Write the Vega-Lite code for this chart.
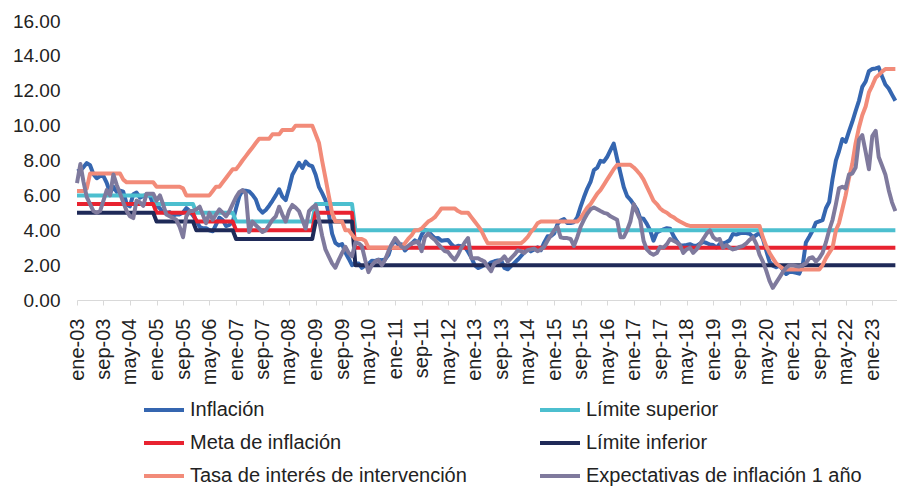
{
  "$schema": "https://vega.github.io/schema/vega-lite/v6.json",
  "autosize": "none",
  "width": 820,
  "height": 279,
  "padding": {"left": 77, "top": 21, "right": 0, "bottom": 188},
  "background": "white",
  "config": {"view": {"stroke": null}, "font": "Liberation Sans"},
  "data": {"values": [
{"d":"2003-01-01","inf":7.39,"sup":6,"meta":5.5,"lim":5,"tasa":6.25,"exp":6.7},
{"d":"2003-02-01","inf":7.43,"sup":6,"meta":5.5,"lim":5,"tasa":6.25,"exp":7.8},
{"d":"2003-03-01","inf":7.61,"sup":6,"meta":5.5,"lim":5,"tasa":6.25,"exp":6.8},
{"d":"2003-04-01","inf":7.85,"sup":6,"meta":5.5,"lim":5,"tasa":6.4,"exp":5.9},
{"d":"2003-05-01","inf":7.73,"sup":6,"meta":5.5,"lim":5,"tasa":7.25,"exp":5.5},
{"d":"2003-06-01","inf":7.21,"sup":6,"meta":5.5,"lim":5,"tasa":7.25,"exp":5.1},
{"d":"2003-07-01","inf":6.98,"sup":6,"meta":5.5,"lim":5,"tasa":7.25,"exp":5.0},
{"d":"2003-08-01","inf":7.11,"sup":6,"meta":5.5,"lim":5,"tasa":7.25,"exp":5.1},
{"d":"2003-09-01","inf":7.11,"sup":6,"meta":5.5,"lim":5,"tasa":7.25,"exp":5.7},
{"d":"2003-10-01","inf":6.72,"sup":6,"meta":5.5,"lim":5,"tasa":7.25,"exp":6.3},
{"d":"2003-11-01","inf":6.13,"sup":6,"meta":5.5,"lim":5,"tasa":7.25,"exp":6.0},
{"d":"2003-12-01","inf":6.49,"sup":6,"meta":5.5,"lim":5,"tasa":7.25,"exp":7.2},
{"d":"2004-01-01","inf":6.20,"sup":6,"meta":5.5,"lim":5,"tasa":7.25,"exp":6.6},
{"d":"2004-02-01","inf":6.27,"sup":6,"meta":5.5,"lim":5,"tasa":7.25,"exp":6.1},
{"d":"2004-03-01","inf":6.21,"sup":6,"meta":5.5,"lim":5,"tasa":6.9,"exp":5.6},
{"d":"2004-04-01","inf":5.50,"sup":6,"meta":5.5,"lim":5,"tasa":6.75,"exp":5.1},
{"d":"2004-05-01","inf":5.37,"sup":6,"meta":5.5,"lim":5,"tasa":6.75,"exp":4.8},
{"d":"2004-06-01","inf":6.06,"sup":6,"meta":5.5,"lim":5,"tasa":6.75,"exp":4.7},
{"d":"2004-07-01","inf":6.16,"sup":6,"meta":5.5,"lim":5,"tasa":6.75,"exp":5.7},
{"d":"2004-08-01","inf":5.87,"sup":6,"meta":5.5,"lim":5,"tasa":6.75,"exp":5.6},
{"d":"2004-09-01","inf":5.97,"sup":6,"meta":5.5,"lim":5,"tasa":6.75,"exp":5.4},
{"d":"2004-10-01","inf":6.03,"sup":6,"meta":5.5,"lim":5,"tasa":6.75,"exp":6.1},
{"d":"2004-11-01","inf":5.97,"sup":6,"meta":5.5,"lim":5,"tasa":6.75,"exp":6.1},
{"d":"2004-12-01","inf":5.50,"sup":6,"meta":5.5,"lim":5,"tasa":6.75,"exp":6.1},
{"d":"2005-01-01","inf":5.43,"sup":5.5,"meta":5,"lim":4.5,"tasa":6.5,"exp":5.7},
{"d":"2005-02-01","inf":5.25,"sup":5.5,"meta":5,"lim":4.5,"tasa":6.5,"exp":6.0},
{"d":"2005-03-01","inf":5.03,"sup":5.5,"meta":5,"lim":4.5,"tasa":6.5,"exp":5.5},
{"d":"2005-04-01","inf":5.01,"sup":5.5,"meta":5,"lim":4.5,"tasa":6.5,"exp":4.9},
{"d":"2005-05-01","inf":5.04,"sup":5.5,"meta":5,"lim":4.5,"tasa":6.5,"exp":4.8},
{"d":"2005-06-01","inf":4.83,"sup":5.5,"meta":5,"lim":4.5,"tasa":6.5,"exp":4.7},
{"d":"2005-07-01","inf":4.91,"sup":5.5,"meta":5,"lim":4.5,"tasa":6.5,"exp":4.6},
{"d":"2005-08-01","inf":4.91,"sup":5.5,"meta":5,"lim":4.5,"tasa":6.5,"exp":4.2},
{"d":"2005-09-01","inf":5.02,"sup":5.5,"meta":5,"lim":4.5,"tasa":6.4,"exp":3.6},
{"d":"2005-10-01","inf":5.27,"sup":5.5,"meta":5,"lim":4.5,"tasa":6.0,"exp":4.8},
{"d":"2005-11-01","inf":5.10,"sup":5.5,"meta":5,"lim":4.5,"tasa":6.0,"exp":5.1},
{"d":"2005-12-01","inf":4.85,"sup":5.5,"meta":5,"lim":4.5,"tasa":6.0,"exp":5.1},
{"d":"2006-01-01","inf":4.56,"sup":5,"meta":4.5,"lim":4,"tasa":6.0,"exp":5.2},
{"d":"2006-02-01","inf":4.19,"sup":5,"meta":4.5,"lim":4,"tasa":6.0,"exp":5.35},
{"d":"2006-03-01","inf":4.11,"sup":5,"meta":4.5,"lim":4,"tasa":6.0,"exp":4.9},
{"d":"2006-04-01","inf":4.12,"sup":5,"meta":4.5,"lim":4,"tasa":6.0,"exp":4.4},
{"d":"2006-05-01","inf":4.00,"sup":5,"meta":4.5,"lim":4,"tasa":6.0,"exp":5.0},
{"d":"2006-06-01","inf":3.94,"sup":5,"meta":4.5,"lim":4,"tasa":6.25,"exp":4.6},
{"d":"2006-07-01","inf":4.32,"sup":5,"meta":4.5,"lim":4,"tasa":6.5,"exp":4.9},
{"d":"2006-08-01","inf":4.72,"sup":5,"meta":4.5,"lim":4,"tasa":6.5,"exp":5.2},
{"d":"2006-09-01","inf":4.58,"sup":5,"meta":4.5,"lim":4,"tasa":6.75,"exp":5.0},
{"d":"2006-10-01","inf":4.24,"sup":5,"meta":4.5,"lim":4,"tasa":7.0,"exp":4.8},
{"d":"2006-11-01","inf":4.31,"sup":5,"meta":4.5,"lim":4,"tasa":7.25,"exp":5.1},
{"d":"2006-12-01","inf":4.48,"sup":5,"meta":4.5,"lim":4,"tasa":7.5,"exp":5.5},
{"d":"2007-01-01","inf":5.26,"sup":4.5,"meta":4,"lim":3.5,"tasa":7.5,"exp":5.9},
{"d":"2007-02-01","inf":5.96,"sup":4.5,"meta":4,"lim":3.5,"tasa":7.75,"exp":6.2},
{"d":"2007-03-01","inf":6.28,"sup":4.5,"meta":4,"lim":3.5,"tasa":8.0,"exp":6.3},
{"d":"2007-04-01","inf":6.26,"sup":4.5,"meta":4,"lim":3.5,"tasa":8.25,"exp":6.1},
{"d":"2007-05-01","inf":6.23,"sup":4.5,"meta":4,"lim":3.5,"tasa":8.5,"exp":3.9},
{"d":"2007-06-01","inf":6.03,"sup":4.5,"meta":4,"lim":3.5,"tasa":8.75,"exp":4.5},
{"d":"2007-07-01","inf":5.77,"sup":4.5,"meta":4,"lim":3.5,"tasa":9.0,"exp":4.3},
{"d":"2007-08-01","inf":5.22,"sup":4.5,"meta":4,"lim":3.5,"tasa":9.25,"exp":4.1},
{"d":"2007-09-01","inf":5.01,"sup":4.5,"meta":4,"lim":3.5,"tasa":9.25,"exp":3.9},
{"d":"2007-10-01","inf":5.16,"sup":4.5,"meta":4,"lim":3.5,"tasa":9.25,"exp":4.0},
{"d":"2007-11-01","inf":5.41,"sup":4.5,"meta":4,"lim":3.5,"tasa":9.25,"exp":4.3},
{"d":"2007-12-01","inf":5.69,"sup":4.5,"meta":4,"lim":3.5,"tasa":9.5,"exp":4.6},
{"d":"2008-01-01","inf":6.00,"sup":4.5,"meta":4,"lim":3.5,"tasa":9.5,"exp":4.8},
{"d":"2008-02-01","inf":6.35,"sup":4.5,"meta":4,"lim":3.5,"tasa":9.5,"exp":5.35},
{"d":"2008-03-01","inf":5.93,"sup":4.5,"meta":4,"lim":3.5,"tasa":9.75,"exp":4.9},
{"d":"2008-04-01","inf":5.73,"sup":4.5,"meta":4,"lim":3.5,"tasa":9.75,"exp":4.5},
{"d":"2008-05-01","inf":6.39,"sup":4.5,"meta":4,"lim":3.5,"tasa":9.75,"exp":5.1},
{"d":"2008-06-01","inf":7.18,"sup":4.5,"meta":4,"lim":3.5,"tasa":9.75,"exp":5.45},
{"d":"2008-07-01","inf":7.52,"sup":4.5,"meta":4,"lim":3.5,"tasa":10.0,"exp":5.3},
{"d":"2008-08-01","inf":7.87,"sup":4.5,"meta":4,"lim":3.5,"tasa":10.0,"exp":5.1},
{"d":"2008-09-01","inf":7.57,"sup":4.5,"meta":4,"lim":3.5,"tasa":10.0,"exp":4.6},
{"d":"2008-10-01","inf":7.94,"sup":4.5,"meta":4,"lim":3.5,"tasa":10.0,"exp":4.1},
{"d":"2008-11-01","inf":7.73,"sup":4.5,"meta":4,"lim":3.5,"tasa":10.0,"exp":5.1},
{"d":"2008-12-01","inf":7.67,"sup":4.5,"meta":4,"lim":3.5,"tasa":10.0,"exp":5.3},
{"d":"2009-01-01","inf":7.18,"sup":5.5,"meta":5,"lim":4.5,"tasa":9.5,"exp":5.45},
{"d":"2009-02-01","inf":6.47,"sup":5.5,"meta":5,"lim":4.5,"tasa":9.0,"exp":4.6},
{"d":"2009-03-01","inf":6.14,"sup":5.5,"meta":5,"lim":4.5,"tasa":8.0,"exp":3.7},
{"d":"2009-04-01","inf":5.73,"sup":5.5,"meta":5,"lim":4.5,"tasa":7.0,"exp":2.9},
{"d":"2009-05-01","inf":4.98,"sup":5.5,"meta":5,"lim":4.5,"tasa":6.0,"exp":2.5},
{"d":"2009-06-01","inf":3.81,"sup":5.5,"meta":5,"lim":4.5,"tasa":5.0,"exp":2.1},
{"d":"2009-07-01","inf":3.28,"sup":5.5,"meta":5,"lim":4.5,"tasa":4.5,"exp":1.85},
{"d":"2009-08-01","inf":3.13,"sup":5.5,"meta":5,"lim":4.5,"tasa":4.5,"exp":2.3},
{"d":"2009-09-01","inf":3.21,"sup":5.5,"meta":5,"lim":4.5,"tasa":4.5,"exp":2.7},
{"d":"2009-10-01","inf":2.72,"sup":5.5,"meta":5,"lim":4.5,"tasa":4.0,"exp":3.05},
{"d":"2009-11-01","inf":2.37,"sup":5.5,"meta":5,"lim":4.5,"tasa":4.0,"exp":2.7},
{"d":"2009-12-01","inf":2.00,"sup":5.5,"meta":5,"lim":4.5,"tasa":3.75,"exp":2.5},
{"d":"2010-01-01","inf":2.10,"sup":4,"meta":3,"lim":2,"tasa":3.5,"exp":3.3},
{"d":"2010-02-01","inf":2.09,"sup":4,"meta":3,"lim":2,"tasa":3.5,"exp":3.25},
{"d":"2010-03-01","inf":1.84,"sup":4,"meta":3,"lim":2,"tasa":3.5,"exp":3.1},
{"d":"2010-04-01","inf":1.98,"sup":4,"meta":3,"lim":2,"tasa":3.4,"exp":2.3},
{"d":"2010-05-01","inf":2.07,"sup":4,"meta":3,"lim":2,"tasa":3.0,"exp":1.6},
{"d":"2010-06-01","inf":2.25,"sup":4,"meta":3,"lim":2,"tasa":3.0,"exp":2.0},
{"d":"2010-07-01","inf":2.24,"sup":4,"meta":3,"lim":2,"tasa":3.0,"exp":2.2},
{"d":"2010-08-01","inf":2.31,"sup":4,"meta":3,"lim":2,"tasa":3.0,"exp":2.3},
{"d":"2010-09-01","inf":2.28,"sup":4,"meta":3,"lim":2,"tasa":3.0,"exp":2.0},
{"d":"2010-10-01","inf":2.33,"sup":4,"meta":3,"lim":2,"tasa":3.0,"exp":2.3},
{"d":"2010-11-01","inf":2.59,"sup":4,"meta":3,"lim":2,"tasa":3.0,"exp":2.8},
{"d":"2010-12-01","inf":3.17,"sup":4,"meta":3,"lim":2,"tasa":3.0,"exp":3.2},
{"d":"2011-01-01","inf":3.40,"sup":4,"meta":3,"lim":2,"tasa":3.0,"exp":3.55},
{"d":"2011-02-01","inf":3.17,"sup":4,"meta":3,"lim":2,"tasa":3.0,"exp":3.3},
{"d":"2011-03-01","inf":3.19,"sup":4,"meta":3,"lim":2,"tasa":3.0,"exp":3.05},
{"d":"2011-04-01","inf":2.84,"sup":4,"meta":3,"lim":2,"tasa":3.25,"exp":2.95},
{"d":"2011-05-01","inf":3.02,"sup":4,"meta":3,"lim":2,"tasa":3.5,"exp":3.1},
{"d":"2011-06-01","inf":3.23,"sup":4,"meta":3,"lim":2,"tasa":3.7,"exp":3.25},
{"d":"2011-07-01","inf":3.42,"sup":4,"meta":3,"lim":2,"tasa":4.0,"exp":3.3},
{"d":"2011-08-01","inf":3.27,"sup":4,"meta":3,"lim":2,"tasa":4.0,"exp":3.35},
{"d":"2011-09-01","inf":3.73,"sup":4,"meta":3,"lim":2,"tasa":4.1,"exp":2.8},
{"d":"2011-10-01","inf":4.02,"sup":4,"meta":3,"lim":2,"tasa":4.3,"exp":3.6},
{"d":"2011-11-01","inf":3.96,"sup":4,"meta":3,"lim":2,"tasa":4.5,"exp":3.8},
{"d":"2011-12-01","inf":3.73,"sup":4,"meta":3,"lim":2,"tasa":4.6,"exp":3.6},
{"d":"2012-01-01","inf":3.54,"sup":4,"meta":3,"lim":2,"tasa":4.75,"exp":3.45},
{"d":"2012-02-01","inf":3.55,"sup":4,"meta":3,"lim":2,"tasa":5.0,"exp":3.2},
{"d":"2012-03-01","inf":3.40,"sup":4,"meta":3,"lim":2,"tasa":5.25,"exp":3.0},
{"d":"2012-04-01","inf":3.43,"sup":4,"meta":3,"lim":2,"tasa":5.25,"exp":2.8},
{"d":"2012-05-01","inf":3.44,"sup":4,"meta":3,"lim":2,"tasa":5.25,"exp":2.75},
{"d":"2012-06-01","inf":3.20,"sup":4,"meta":3,"lim":2,"tasa":5.25,"exp":2.5},
{"d":"2012-07-01","inf":3.03,"sup":4,"meta":3,"lim":2,"tasa":5.25,"exp":2.3},
{"d":"2012-08-01","inf":3.11,"sup":4,"meta":3,"lim":2,"tasa":5.1,"exp":2.6},
{"d":"2012-09-01","inf":3.08,"sup":4,"meta":3,"lim":2,"tasa":5.0,"exp":3.0},
{"d":"2012-10-01","inf":3.06,"sup":4,"meta":3,"lim":2,"tasa":5.0,"exp":3.3},
{"d":"2012-11-01","inf":2.77,"sup":4,"meta":3,"lim":2,"tasa":5.0,"exp":3.55},
{"d":"2012-12-01","inf":2.44,"sup":4,"meta":3,"lim":2,"tasa":4.75,"exp":2.4},
{"d":"2013-01-01","inf":2.00,"sup":4,"meta":3,"lim":2,"tasa":4.5,"exp":2.4},
{"d":"2013-02-01","inf":1.83,"sup":4,"meta":3,"lim":2,"tasa":4.25,"exp":2.4},
{"d":"2013-03-01","inf":1.91,"sup":4,"meta":3,"lim":2,"tasa":4.0,"exp":2.3},
{"d":"2013-04-01","inf":2.02,"sup":4,"meta":3,"lim":2,"tasa":3.6,"exp":2.2},
{"d":"2013-05-01","inf":2.00,"sup":4,"meta":3,"lim":2,"tasa":3.25,"exp":1.9},
{"d":"2013-06-01","inf":2.16,"sup":4,"meta":3,"lim":2,"tasa":3.25,"exp":1.65},
{"d":"2013-07-01","inf":2.22,"sup":4,"meta":3,"lim":2,"tasa":3.25,"exp":2.1},
{"d":"2013-08-01","inf":2.27,"sup":4,"meta":3,"lim":2,"tasa":3.25,"exp":2.2},
{"d":"2013-09-01","inf":2.27,"sup":4,"meta":3,"lim":2,"tasa":3.25,"exp":2.3},
{"d":"2013-10-01","inf":1.84,"sup":4,"meta":3,"lim":2,"tasa":3.25,"exp":2.5},
{"d":"2013-11-01","inf":1.76,"sup":4,"meta":3,"lim":2,"tasa":3.25,"exp":2.2},
{"d":"2013-12-01","inf":1.94,"sup":4,"meta":3,"lim":2,"tasa":3.25,"exp":2.4},
{"d":"2014-01-01","inf":2.13,"sup":4,"meta":3,"lim":2,"tasa":3.25,"exp":2.6},
{"d":"2014-02-01","inf":2.32,"sup":4,"meta":3,"lim":2,"tasa":3.25,"exp":2.85},
{"d":"2014-03-01","inf":2.51,"sup":4,"meta":3,"lim":2,"tasa":3.25,"exp":2.8},
{"d":"2014-04-01","inf":2.72,"sup":4,"meta":3,"lim":2,"tasa":3.4,"exp":2.7},
{"d":"2014-05-01","inf":2.93,"sup":4,"meta":3,"lim":2,"tasa":3.6,"exp":2.85},
{"d":"2014-06-01","inf":2.79,"sup":4,"meta":3,"lim":2,"tasa":3.9,"exp":2.9},
{"d":"2014-07-01","inf":2.89,"sup":4,"meta":3,"lim":2,"tasa":4.1,"exp":2.95},
{"d":"2014-08-01","inf":3.02,"sup":4,"meta":3,"lim":2,"tasa":4.4,"exp":2.8},
{"d":"2014-09-01","inf":2.86,"sup":4,"meta":3,"lim":2,"tasa":4.5,"exp":2.9},
{"d":"2014-10-01","inf":3.29,"sup":4,"meta":3,"lim":2,"tasa":4.5,"exp":3.05},
{"d":"2014-11-01","inf":3.65,"sup":4,"meta":3,"lim":2,"tasa":4.5,"exp":3.4},
{"d":"2014-12-01","inf":3.66,"sup":4,"meta":3,"lim":2,"tasa":4.5,"exp":3.7},
{"d":"2015-01-01","inf":3.82,"sup":4,"meta":3,"lim":2,"tasa":4.5,"exp":4.0},
{"d":"2015-02-01","inf":4.36,"sup":4,"meta":3,"lim":2,"tasa":4.5,"exp":4.2},
{"d":"2015-03-01","inf":4.56,"sup":4,"meta":3,"lim":2,"tasa":4.5,"exp":3.6},
{"d":"2015-04-01","inf":4.64,"sup":4,"meta":3,"lim":2,"tasa":4.5,"exp":3.55},
{"d":"2015-05-01","inf":4.41,"sup":4,"meta":3,"lim":2,"tasa":4.5,"exp":3.55},
{"d":"2015-06-01","inf":4.42,"sup":4,"meta":3,"lim":2,"tasa":4.5,"exp":3.5},
{"d":"2015-07-01","inf":4.46,"sup":4,"meta":3,"lim":2,"tasa":4.5,"exp":3.1},
{"d":"2015-08-01","inf":4.74,"sup":4,"meta":3,"lim":2,"tasa":4.5,"exp":3.6},
{"d":"2015-09-01","inf":5.35,"sup":4,"meta":3,"lim":2,"tasa":4.7,"exp":4.2},
{"d":"2015-10-01","inf":5.89,"sup":4,"meta":3,"lim":2,"tasa":5.0,"exp":4.6},
{"d":"2015-11-01","inf":6.39,"sup":4,"meta":3,"lim":2,"tasa":5.3,"exp":4.95},
{"d":"2015-12-01","inf":6.77,"sup":4,"meta":3,"lim":2,"tasa":5.5,"exp":5.2},
{"d":"2016-01-01","inf":7.45,"sup":4,"meta":3,"lim":2,"tasa":5.8,"exp":5.3},
{"d":"2016-02-01","inf":7.59,"sup":4,"meta":3,"lim":2,"tasa":6.1,"exp":5.2},
{"d":"2016-03-01","inf":7.98,"sup":4,"meta":3,"lim":2,"tasa":6.3,"exp":5.1},
{"d":"2016-04-01","inf":7.93,"sup":4,"meta":3,"lim":2,"tasa":6.6,"exp":5.0},
{"d":"2016-05-01","inf":8.20,"sup":4,"meta":3,"lim":2,"tasa":6.9,"exp":4.95},
{"d":"2016-06-01","inf":8.60,"sup":4,"meta":3,"lim":2,"tasa":7.2,"exp":4.8},
{"d":"2016-07-01","inf":8.97,"sup":4,"meta":3,"lim":2,"tasa":7.5,"exp":4.7},
{"d":"2016-08-01","inf":8.10,"sup":4,"meta":3,"lim":2,"tasa":7.75,"exp":4.6},
{"d":"2016-09-01","inf":7.27,"sup":4,"meta":3,"lim":2,"tasa":7.75,"exp":3.6},
{"d":"2016-10-01","inf":6.48,"sup":4,"meta":3,"lim":2,"tasa":7.75,"exp":3.6},
{"d":"2016-11-01","inf":5.96,"sup":4,"meta":3,"lim":2,"tasa":7.75,"exp":4.0},
{"d":"2016-12-01","inf":5.75,"sup":4,"meta":3,"lim":2,"tasa":7.75,"exp":4.5},
{"d":"2017-01-01","inf":5.47,"sup":4,"meta":3,"lim":2,"tasa":7.6,"exp":5.5},
{"d":"2017-02-01","inf":5.18,"sup":4,"meta":3,"lim":2,"tasa":7.4,"exp":5.0},
{"d":"2017-03-01","inf":4.69,"sup":4,"meta":3,"lim":2,"tasa":7.2,"exp":4.6},
{"d":"2017-04-01","inf":4.66,"sup":4,"meta":3,"lim":2,"tasa":6.9,"exp":3.4},
{"d":"2017-05-01","inf":4.37,"sup":4,"meta":3,"lim":2,"tasa":6.5,"exp":2.9},
{"d":"2017-06-01","inf":3.99,"sup":4,"meta":3,"lim":2,"tasa":6.1,"exp":2.7},
{"d":"2017-07-01","inf":3.40,"sup":4,"meta":3,"lim":2,"tasa":5.7,"exp":2.6},
{"d":"2017-08-01","inf":3.87,"sup":4,"meta":3,"lim":2,"tasa":5.5,"exp":2.7},
{"d":"2017-09-01","inf":3.97,"sup":4,"meta":3,"lim":2,"tasa":5.25,"exp":3.05},
{"d":"2017-10-01","inf":4.05,"sup":4,"meta":3,"lim":2,"tasa":5.1,"exp":3.0},
{"d":"2017-11-01","inf":4.12,"sup":4,"meta":3,"lim":2,"tasa":5.0,"exp":3.2},
{"d":"2017-12-01","inf":4.09,"sup":4,"meta":3,"lim":2,"tasa":4.85,"exp":3.5},
{"d":"2018-01-01","inf":3.68,"sup":4,"meta":3,"lim":2,"tasa":4.75,"exp":3.4},
{"d":"2018-02-01","inf":3.37,"sup":4,"meta":3,"lim":2,"tasa":4.6,"exp":3.3},
{"d":"2018-03-01","inf":3.14,"sup":4,"meta":3,"lim":2,"tasa":4.5,"exp":3.15},
{"d":"2018-04-01","inf":3.13,"sup":4,"meta":3,"lim":2,"tasa":4.4,"exp":2.7},
{"d":"2018-05-01","inf":3.16,"sup":4,"meta":3,"lim":2,"tasa":4.3,"exp":2.9},
{"d":"2018-06-01","inf":3.20,"sup":4,"meta":3,"lim":2,"tasa":4.25,"exp":3.0},
{"d":"2018-07-01","inf":3.12,"sup":4,"meta":3,"lim":2,"tasa":4.25,"exp":2.7},
{"d":"2018-08-01","inf":3.10,"sup":4,"meta":3,"lim":2,"tasa":4.25,"exp":2.9},
{"d":"2018-09-01","inf":3.23,"sup":4,"meta":3,"lim":2,"tasa":4.25,"exp":3.2},
{"d":"2018-10-01","inf":3.33,"sup":4,"meta":3,"lim":2,"tasa":4.25,"exp":3.5},
{"d":"2018-11-01","inf":3.27,"sup":4,"meta":3,"lim":2,"tasa":4.25,"exp":3.8},
{"d":"2018-12-01","inf":3.18,"sup":4,"meta":3,"lim":2,"tasa":4.25,"exp":4.0},
{"d":"2019-01-01","inf":3.15,"sup":4,"meta":3,"lim":2,"tasa":4.25,"exp":3.6},
{"d":"2019-02-01","inf":3.01,"sup":4,"meta":3,"lim":2,"tasa":4.25,"exp":3.45},
{"d":"2019-03-01","inf":3.21,"sup":4,"meta":3,"lim":2,"tasa":4.25,"exp":3.5},
{"d":"2019-04-01","inf":3.25,"sup":4,"meta":3,"lim":2,"tasa":4.25,"exp":3.0},
{"d":"2019-05-01","inf":3.31,"sup":4,"meta":3,"lim":2,"tasa":4.25,"exp":3.15},
{"d":"2019-06-01","inf":3.43,"sup":4,"meta":3,"lim":2,"tasa":4.25,"exp":3.0},
{"d":"2019-07-01","inf":3.79,"sup":4,"meta":3,"lim":2,"tasa":4.25,"exp":2.9},
{"d":"2019-08-01","inf":3.75,"sup":4,"meta":3,"lim":2,"tasa":4.25,"exp":2.95},
{"d":"2019-09-01","inf":3.82,"sup":4,"meta":3,"lim":2,"tasa":4.25,"exp":3.05},
{"d":"2019-10-01","inf":3.86,"sup":4,"meta":3,"lim":2,"tasa":4.25,"exp":3.1},
{"d":"2019-11-01","inf":3.84,"sup":4,"meta":3,"lim":2,"tasa":4.25,"exp":3.25},
{"d":"2019-12-01","inf":3.80,"sup":4,"meta":3,"lim":2,"tasa":4.25,"exp":3.45},
{"d":"2020-01-01","inf":3.62,"sup":4,"meta":3,"lim":2,"tasa":4.25,"exp":3.6},
{"d":"2020-02-01","inf":3.72,"sup":4,"meta":3,"lim":2,"tasa":4.25,"exp":3.2},
{"d":"2020-03-01","inf":3.86,"sup":4,"meta":3,"lim":2,"tasa":4.25,"exp":2.6},
{"d":"2020-04-01","inf":3.51,"sup":4,"meta":3,"lim":2,"tasa":3.6,"exp":2.2},
{"d":"2020-05-01","inf":2.85,"sup":4,"meta":3,"lim":2,"tasa":3.1,"exp":1.7},
{"d":"2020-06-01","inf":2.19,"sup":4,"meta":3,"lim":2,"tasa":2.7,"exp":1.1},
{"d":"2020-07-01","inf":1.97,"sup":4,"meta":3,"lim":2,"tasa":2.4,"exp":0.7},
{"d":"2020-08-01","inf":1.88,"sup":4,"meta":3,"lim":2,"tasa":2.1,"exp":1.0},
{"d":"2020-09-01","inf":1.97,"sup":4,"meta":3,"lim":2,"tasa":1.95,"exp":1.3},
{"d":"2020-10-01","inf":1.75,"sup":4,"meta":3,"lim":2,"tasa":1.8,"exp":1.6},
{"d":"2020-11-01","inf":1.49,"sup":4,"meta":3,"lim":2,"tasa":1.75,"exp":1.85},
{"d":"2020-12-01","inf":1.61,"sup":4,"meta":3,"lim":2,"tasa":1.75,"exp":2.0},
{"d":"2021-01-01","inf":1.60,"sup":4,"meta":3,"lim":2,"tasa":1.75,"exp":2.0},
{"d":"2021-02-01","inf":1.56,"sup":4,"meta":3,"lim":2,"tasa":1.75,"exp":1.95},
{"d":"2021-03-01","inf":1.51,"sup":4,"meta":3,"lim":2,"tasa":1.75,"exp":1.92},
{"d":"2021-04-01","inf":1.95,"sup":4,"meta":3,"lim":2,"tasa":1.75,"exp":2.0},
{"d":"2021-05-01","inf":3.30,"sup":4,"meta":3,"lim":2,"tasa":1.75,"exp":2.1},
{"d":"2021-06-01","inf":3.63,"sup":4,"meta":3,"lim":2,"tasa":1.75,"exp":2.4},
{"d":"2021-07-01","inf":3.97,"sup":4,"meta":3,"lim":2,"tasa":1.75,"exp":2.45},
{"d":"2021-08-01","inf":4.44,"sup":4,"meta":3,"lim":2,"tasa":1.75,"exp":2.2},
{"d":"2021-09-01","inf":4.51,"sup":4,"meta":3,"lim":2,"tasa":1.75,"exp":2.4},
{"d":"2021-10-01","inf":4.58,"sup":4,"meta":3,"lim":2,"tasa":2.0,"exp":2.7},
{"d":"2021-11-01","inf":5.26,"sup":4,"meta":3,"lim":2,"tasa":2.4,"exp":3.3},
{"d":"2021-12-01","inf":5.62,"sup":4,"meta":3,"lim":2,"tasa":2.7,"exp":4.0},
{"d":"2022-01-01","inf":6.94,"sup":4,"meta":3,"lim":2,"tasa":3.0,"exp":4.6},
{"d":"2022-02-01","inf":8.01,"sup":4,"meta":3,"lim":2,"tasa":4.0,"exp":5.5},
{"d":"2022-03-01","inf":8.53,"sup":4,"meta":3,"lim":2,"tasa":4.4,"exp":6.4},
{"d":"2022-04-01","inf":9.23,"sup":4,"meta":3,"lim":2,"tasa":5.2,"exp":6.5},
{"d":"2022-05-01","inf":9.07,"sup":4,"meta":3,"lim":2,"tasa":6.0,"exp":6.4},
{"d":"2022-06-01","inf":9.67,"sup":4,"meta":3,"lim":2,"tasa":7.0,"exp":7.2},
{"d":"2022-07-01","inf":10.21,"sup":4,"meta":3,"lim":2,"tasa":7.8,"exp":7.25},
{"d":"2022-08-01","inf":10.84,"sup":4,"meta":3,"lim":2,"tasa":9.0,"exp":7.6},
{"d":"2022-09-01","inf":11.44,"sup":4,"meta":3,"lim":2,"tasa":9.9,"exp":9.2},
{"d":"2022-10-01","inf":12.22,"sup":4,"meta":3,"lim":2,"tasa":10.6,"exp":9.45},
{"d":"2022-11-01","inf":12.53,"sup":4,"meta":3,"lim":2,"tasa":11.1,"exp":8.5},
{"d":"2022-12-01","inf":13.12,"sup":4,"meta":3,"lim":2,"tasa":11.9,"exp":7.5},
{"d":"2023-01-01","inf":13.25,"sup":4,"meta":3,"lim":2,"tasa":12.3,"exp":9.4},
{"d":"2023-02-01","inf":13.28,"sup":4,"meta":3,"lim":2,"tasa":12.75,"exp":9.7},
{"d":"2023-03-01","inf":13.34,"sup":4,"meta":3,"lim":2,"tasa":12.9,"exp":8.2},
{"d":"2023-04-01","inf":12.82,"sup":4,"meta":3,"lim":2,"tasa":13.1,"exp":7.7},
{"d":"2023-05-01","inf":12.36,"sup":4,"meta":3,"lim":2,"tasa":13.25,"exp":7.2},
{"d":"2023-06-01","inf":12.13,"sup":4,"meta":3,"lim":2,"tasa":13.25,"exp":6.3},
{"d":"2023-07-01","inf":11.78,"sup":4,"meta":3,"lim":2,"tasa":13.25,"exp":5.6},
{"d":"2023-08-01","inf":11.43,"sup":4,"meta":3,"lim":2,"tasa":13.25,"exp":5.1}
  ]},
  "transform": [
    {"fold": ["inf", "sup", "meta", "lim", "tasa", "exp"], "as": ["serie", "valor"]}
  ],
  "mark": {"type": "line", "strokeWidth": 4, "strokeJoin": "round"},
  "encoding": {
    "x": {
      "field": "d", "type": "temporal",
      "scale": {"type": "utc", "domain": [{"year": 2003, "month": 1, "date": 1, "utc": true}, {"year": 2023, "month": 8, "date": 16, "utc": true}]},
      "axis": {
        "title": null,
        "values": [
          {"year": 2003, "month": 1, "date": 1, "utc": true},
          {"year": 2003, "month": 9, "date": 1, "utc": true},
          {"year": 2004, "month": 5, "date": 1, "utc": true},
          {"year": 2005, "month": 1, "date": 1, "utc": true},
          {"year": 2005, "month": 9, "date": 1, "utc": true},
          {"year": 2006, "month": 5, "date": 1, "utc": true},
          {"year": 2007, "month": 1, "date": 1, "utc": true},
          {"year": 2007, "month": 9, "date": 1, "utc": true},
          {"year": 2008, "month": 5, "date": 1, "utc": true},
          {"year": 2009, "month": 1, "date": 1, "utc": true},
          {"year": 2009, "month": 9, "date": 1, "utc": true},
          {"year": 2010, "month": 5, "date": 1, "utc": true},
          {"year": 2011, "month": 1, "date": 1, "utc": true},
          {"year": 2011, "month": 9, "date": 1, "utc": true},
          {"year": 2012, "month": 5, "date": 1, "utc": true},
          {"year": 2013, "month": 1, "date": 1, "utc": true},
          {"year": 2013, "month": 9, "date": 1, "utc": true},
          {"year": 2014, "month": 5, "date": 1, "utc": true},
          {"year": 2015, "month": 1, "date": 1, "utc": true},
          {"year": 2015, "month": 9, "date": 1, "utc": true},
          {"year": 2016, "month": 5, "date": 1, "utc": true},
          {"year": 2017, "month": 1, "date": 1, "utc": true},
          {"year": 2017, "month": 9, "date": 1, "utc": true},
          {"year": 2018, "month": 5, "date": 1, "utc": true},
          {"year": 2019, "month": 1, "date": 1, "utc": true},
          {"year": 2019, "month": 9, "date": 1, "utc": true},
          {"year": 2020, "month": 5, "date": 1, "utc": true},
          {"year": 2021, "month": 1, "date": 1, "utc": true},
          {"year": 2021, "month": 9, "date": 1, "utc": true},
          {"year": 2022, "month": 5, "date": 1, "utc": true},
          {"year": 2023, "month": 1, "date": 1, "utc": true}
        ],
        "labelExpr": "['ene','feb','mar','abr','may','jun','jul','ago','sep','oct','nov','dic'][utcmonth(datum.value)] + '-' + utcFormat(datum.value, '%y')",
        "labelAngle": -90,
        "labelAlign": "right",
        "labelBaseline": "middle",
        "labelFontSize": 20,
        "labelColor": "#222222",
        "labelOverlap": false,
        "labelBound": false,
        "labelFlush": false,
        "labelPadding": 13,
        "tickSize": 5,
        "tickColor": "#d9d9d9",
        "domainColor": "#d9d9d9",
        "domainWidth": 1,
        "grid": false
      }
    },
    "y": {
      "field": "valor", "type": "quantitative",
      "scale": {"domain": [0, 16], "nice": false, "zero": true},
      "axis": {
        "title": null,
        "values": [0, 2, 4, 6, 8, 10, 12, 14, 16],
        "format": ".2f",
        "domain": false,
        "ticks": false,
        "tickSize": 0,
        "grid": false,
        "labelFontSize": 19,
        "labelColor": "#222222",
        "labelPadding": 17
      }
    },
    "color": {
      "field": "serie", "type": "nominal",
      "scale": {
        "domain": ["inf", "meta", "tasa", "sup", "lim", "exp"],
        "range": ["#3566B0", "#E82230", "#F28B79", "#4CBFCF", "#1F2A58", "#7F7A9D"]
      },
      "legend": {
        "title": null,
        "orient": "none",
        "legendX": 65,
        "legendY": 367,
        "columns": 2,
        "symbolType": "stroke",
        "symbolSize": 1600,
        "symbolStrokeWidth": 4,
        "labelFontSize": 20,
        "labelColor": "#222222",
        "labelOffset": 4,
        "labelLimit": 500,
        "columnPadding": 65,
        "rowPadding": 1,
        "labelExpr": "{'inf':'Inflación','sup':'Límite superior','meta':'Meta de inflación','lim':'Límite inferior','tasa':'Tasa de interés de intervención','exp':'Expectativas de inflación 1 año'}[datum.value]"
      }
    }
  }
}
